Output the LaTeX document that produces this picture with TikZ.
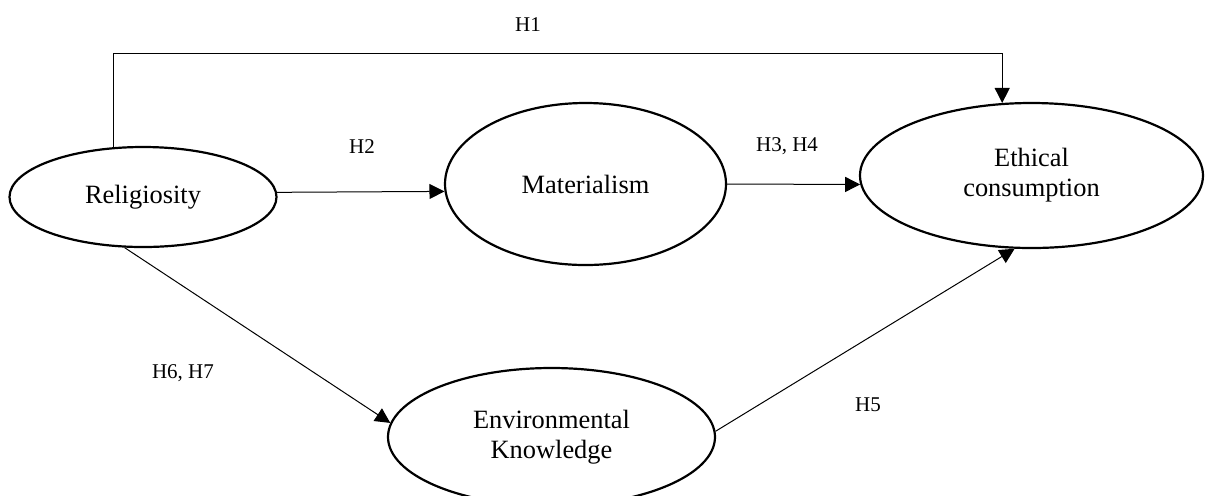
\documentclass[tikz,border=0pt]{standalone}
\usepackage{fontspec}
\setmainfont{Liberation Serif}
\usepackage{tikz}
\usetikzlibrary{shapes,arrows.meta}

\begin{document}
\begin{tikzpicture}[x=0.5pt,y=-0.5pt,
         construct/.style={ellipse,draw,line width=1.1pt,inner sep=0pt,align=center,font=\fontsize{13.2}{15}\selectfont},
         link/.style={-{Triangle[length=7.5pt,width=7.5pt]},line width=0.5pt},
         hyp/.style={font=\fontsize{10.5}{12}\selectfont}]
         \useasboundingbox (0,0) rectangle (1206,495);
         % constructs
         \node[construct,minimum width=133.5pt,minimum height=50pt] (rel) at (143,197) {Religiosity};
         \node[construct,minimum width=140.5pt,minimum height=81pt] (mat) at (585.5,184) {Materialism};
         \node[construct,minimum width=171.5pt,minimum height=72.5pt] (eth) at (1031.5,175.5) {Ethical\\consumption};
         \node[construct,minimum width=163.5pt,minimum height=69pt] (env) at (551.5,437) {Environmental\\Knowledge};
         % hypotheses
         \node[hyp] (h1) at (528,25) {H1};
         \node[hyp] (h2) at (362,147) {H2};
         \node[hyp] (h34) at (787,146) {H3, H4};
         \node[hyp] (h5) at (868,405) {H5};
         \node[hyp] (h67) at (183,373) {H6, H7};
         \coordinate (top) at (500,53);
         \draw[link] (rel.121) |- (top) -| (eth.112);
         \draw[link] (rel.2) -- (mat.183);
         \draw[link] (mat.east) -- (eth.183);
         \draw[link] (rel.250) -- (env.175);
         \draw[link] (env.2) -- (eth.257);
      \end{tikzpicture}
\end{document}
